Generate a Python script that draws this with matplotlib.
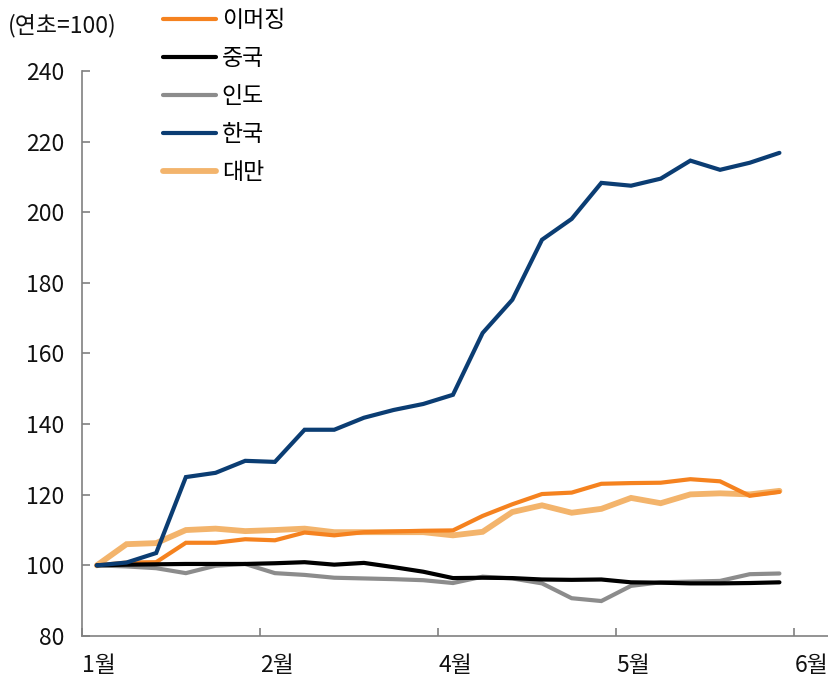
import matplotlib
matplotlib.use("Agg")
import matplotlib.pyplot as plt
from matplotlib.lines import Line2D

plt.rcParams['font.family'] = ['Noto Sans CJK KR', 'DejaVu Sans']

# Weekly index values (start of year = 100)
month_labels = ['1월', '2월', '4월', '5월', '6월']
series_names = ['이머징', '중국', '인도', '한국', '대만']

emerging = [100, 100.8, 100.9, 106.4, 106.4, 107.4, 107.1, 109.3, 108.5, 109.4, 109.6, 109.8,
            109.9, 114.0, 117.3, 120.2, 120.6, 123.1, 123.3, 123.4, 124.4, 123.8, 119.7, 120.8]
china = [100, 100.2, 100.3, 100.4, 100.4, 100.4, 100.6, 100.9, 100.2, 100.7, 99.5, 98.2,
         96.4, 96.5, 96.4, 96.0, 95.9, 96.0, 95.2, 95.1, 94.9, 94.9, 95.0, 95.2]
india = [100, 99.7, 99.2, 97.8, 99.9, 100.4, 97.8, 97.3, 96.5, 96.3, 96.1, 95.8,
         95.0, 96.8, 96.3, 94.9, 90.7, 89.9, 94.2, 95.2, 95.4, 95.6, 97.5, 97.7]
korea = [100, 100.8, 103.5, 125.0, 126.2, 129.6, 129.3, 138.4, 138.4, 141.8, 144.0, 145.7,
         148.3, 165.8, 175.2, 192.2, 198.1, 208.3, 207.5, 209.5, 214.6, 212.0, 214.0, 216.8]
taiwan = [100, 106.0, 106.3, 110.0, 110.4, 109.7, 110.0, 110.4, 109.4, 109.4, 109.4, 109.4,
          108.5, 109.5, 115.1, 117.0, 114.9, 116.0, 119.1, 117.6, 120.1, 120.4, 120.1, 121.1]

colors = ['#F5821F', '#000000', '#8C8C8C', '#0B3D73', '#F3B46C']
widths = [3.0, 3.0, 3.0, 3.0, 4.2]
FS = 16.5

fig = plt.figure(figsize=(8.29, 6.8), dpi=100)
ax = fig.add_axes([0.0989, 0.0647, 0.9, 0.831])

x = list(range(len(korea)))
# drawing order: light series first, Korea on top
order = [4, 0, 2, 1, 3]
data = [emerging, china, india, korea, taiwan]
for i in order:
    ax.plot(x, data[i], color=colors[i], lw=widths[i], solid_capstyle='round',
            solid_joinstyle='miter', zorder=3 + order.index(i))

ax.set_ylim(80, 240)
ax.set_yticks(range(80, 241, 20))
ax.set_xlim(-0.5, 24.64)
ax.set_xticks([-0.5, 5.5, 11.5, 17.5, 23.5])
ax.set_xticklabels(month_labels, ha='left')

for s in ['top', 'right']:
    ax.spines[s].set_visible(False)
for s in ['left', 'bottom']:
    ax.spines[s].set_color('#808080')
    ax.spines[s].set_linewidth(1.2)

ax.tick_params(axis='both', direction='in', length=6, width=1.2, color='#808080',
               labelsize=FS, labelcolor='#111111')
ax.tick_params(axis='y', pad=13)
ax.tick_params(axis='x', pad=13)

fig.text(0.010, 0.963, '(연초=100)', fontsize=FS, color='#111111', va='center', ha='left')

handles = [Line2D([0], [0], color=colors[i], lw=widths[i], solid_capstyle='round')
           for i in range(5)]
leg = fig.legend(handles, series_names, loc='upper left', bbox_to_anchor=(0.197, 0.987),
                 frameon=False, fontsize=FS, handlelength=2.3, handletextpad=0.25,
                 labelspacing=0.66, borderpad=0, borderaxespad=0)

fig.savefig('out.png', dpi=100)
